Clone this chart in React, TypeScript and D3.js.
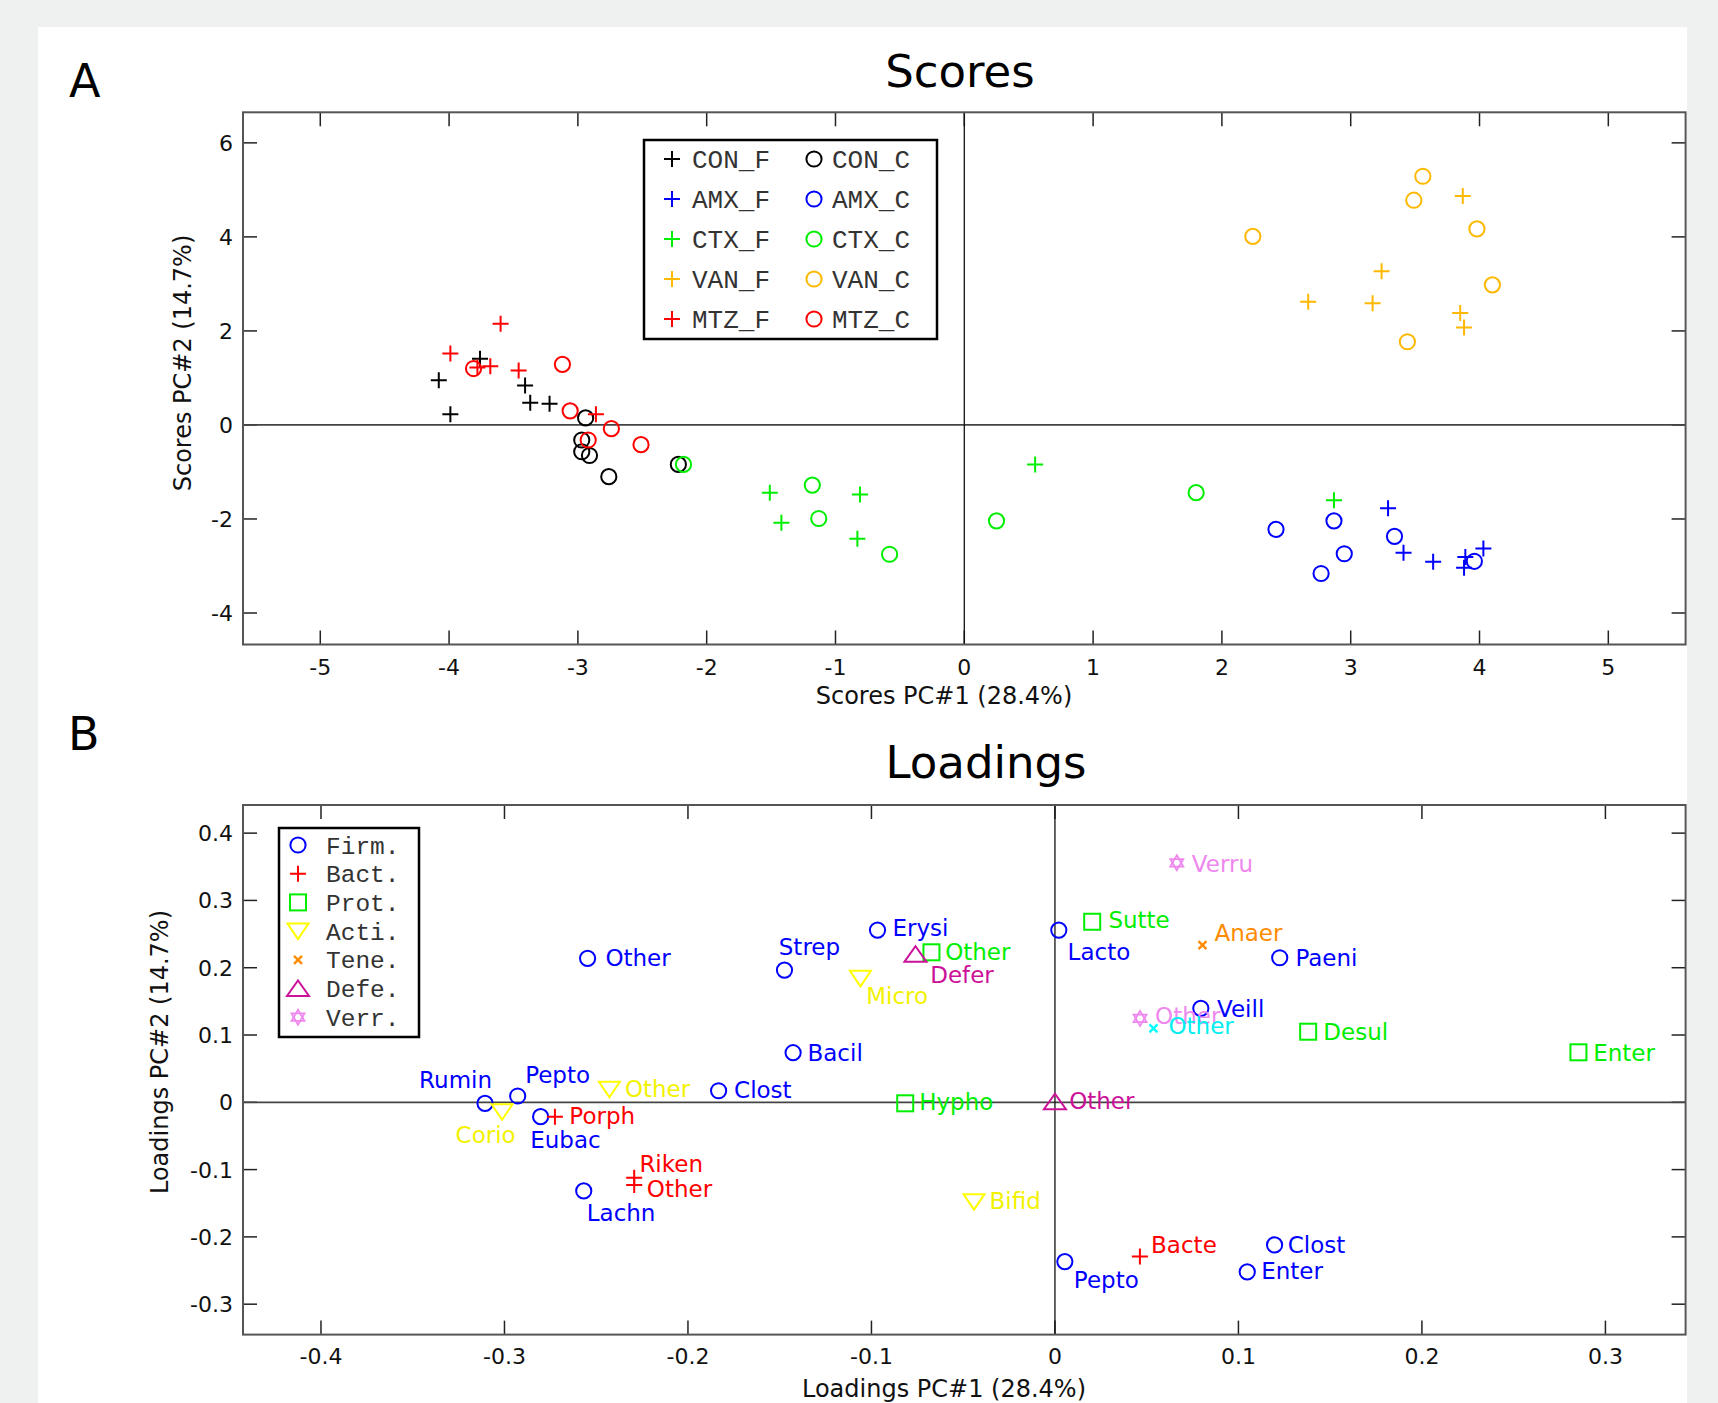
import React, { useEffect } from "react";
import * as d3 from "d3";

// ---------------- Scores data (PC1, PC2) ----------------
const CON_F = [[-4.08, 0.95], [-3.99, 0.23], [-3.76, 1.41], [-3.41, 0.84], [-3.37, 0.47], [-3.22, 0.45]];
const CON_C = [[-2.94, 0.15], [-2.97, -0.32], [-2.97, -0.57], [-2.91, -0.65], [-2.76, -1.1], [-2.22, -0.84]];
const AMX_F = [[3.29, -1.77], [3.41, -2.72], [3.64, -2.91], [3.88, -3.04], [3.89, -2.81], [4.03, -2.63]];
const AMX_C = [[2.42, -2.22], [2.87, -2.04], [2.95, -2.74], [2.77, -3.16], [3.34, -2.37], [3.96, -2.9]];
const CTX_F = [[-1.51, -1.44], [-1.42, -2.08], [-0.81, -1.48], [-0.83, -2.42], [0.55, -0.84], [2.87, -1.6]];
const CTX_C = [[-2.18, -0.84], [-1.18, -1.28], [-1.13, -1.99], [-0.58, -2.75], [0.25, -2.04], [1.8, -1.44]];
const VAN_F = [[3.87, 4.87], [3.24, 3.27], [2.67, 2.62], [3.17, 2.59], [3.85, 2.38], [3.88, 2.07]];
const VAN_C = [[3.56, 5.29], [3.49, 4.78], [2.24, 4.01], [3.98, 4.17], [4.1, 2.98], [3.44, 1.77]];
const MTZ_F = [[-3.99, 1.52], [-3.6, 2.15], [-3.78, 1.22], [-3.68, 1.25], [-3.46, 1.16], [-2.86, 0.23]];
const MTZ_C = [[-3.81, 1.2], [-3.12, 1.29], [-3.06, 0.3], [-2.92, -0.32], [-2.74, -0.08], [-2.51, -0.42]];

const SCORE_GROUPS = ["CON", "AMX", "CTX", "VAN", "MTZ"];
const SCORE_F = [CON_F, AMX_F, CTX_F, VAN_F, MTZ_F];
const SCORE_C = [CON_C, AMX_C, CTX_C, VAN_C, MTZ_C];
const SCORE_COLORS = ["#000000", "#0000ff", "#00ee00", "#ffb800", "#ff0000"];

const SCORE_XTICKS = [-5, -4, -3, -2, -1, 0, 1, 2, 3, 4, 5];
const SCORE_YTICKS = [-4, -2, 0, 2, 4, 6];

// ---------------- Loadings data [label, PC1, PC2] ----------------
const FIRM = [
  ["Other", -0.2547, 0.2139], ["Strep", -0.1474, 0.1965], ["Erysi", -0.0967, 0.2559],
  ["Bacil", -0.1427, 0.0737], ["Clost", -0.1833, 0.0172], ["Rumin", -0.3106, -0.0015],
  ["Pepto", -0.2928, 0.0094], ["Eubac", -0.2803, -0.0214], ["Lachn", -0.2568, -0.1317],
  ["Lacto", 0.0021, 0.2559], ["Paeni", 0.1225, 0.2148], ["Veill", 0.0795, 0.1396],
  ["Pepto", 0.0054, -0.2367], ["Clost", 0.1197, -0.2119], ["Enter", 0.1048, -0.252],
];
const BACT = [["Porph", -0.2725, -0.0214], ["Riken", -0.2293, -0.112], ["Other", -0.2293, -0.1228], ["Bacte", 0.0463, -0.2293]];
const PROT = [["Other", -0.0673, 0.2229], ["Hypho", -0.0816, -0.0015], ["Sutte", 0.0203, 0.2683], ["Desul", 0.138, 0.1049], ["Enter", 0.2853, 0.0743]];
const ACTI = [["Corio", -0.3013, -0.014], ["Other", -0.2428, 0.0193], ["Micro", -0.106, 0.1842], ["Bifid", -0.0441, -0.1476]];
const TENE = [["Anaer", 0.0804, 0.2336]];
const DEFE = [["Defer", -0.076, 0.22], ["Other", 0.0, 0.001]];
const VERR = [["Verru", 0.0664, 0.3559], ["Other", 0.0464, 0.1247]];
const OTHER_PHYLUM = [["Other", 0.0537, 0.1099]];

const LOAD_XTICKS = [-0.4, -0.3, -0.2, -0.1, 0, 0.1, 0.2, 0.3];
const LOAD_YTICKS = [-0.3, -0.2, -0.1, 0, 0.1, 0.2, 0.3, 0.4];

const LEGEND_PHYLA = ["Firm.", "Bact.", "Prot.", "Acti.", "Tene.", "Defe.", "Verr."];

// label placement (layout only): [dx, dy, anchor]
const FIRM_LBL = [[17.8, 7.7], [-5.7, -15], [15, 6.2], [14.4, 8], [15.5, 7.6], [7, -15, "end"], [7.5, -12.7], [-10.4, 31.6], [3, 29.7], [8.8, 30], [15.7, 8.3], [16.2, 9], [9, 26.6], [13.2, 8.3], [14, 7.3]];
const BACT_LBL = [[14.4, 7.6], [5.2, -6], [12.6, 12.3], [11.2, -3.4]];
const PROT_LBL = [[13.7, 8], [14, 7], [16.2, 6.7], [15.2, 8.3], [14.7, 8.3]];
const ACTI_LBL = [[-46.5, 31], [15.5, 8], [5.8, 26], [15.5, 7.6]];
const TENE_LBL = [[12, -4.3]];
const DEFE_LBL = [[14.7, 28.5], [14.2, 7.6]];
const VERR_LBL = [[15, 9], [15, 5.7]];
const OTHER_LBL = [[15, 5.7]];

const SANS = "'DejaVu Sans', sans-serif";
const MONO = "'Liberation Mono', 'DejaVu Sans Mono', monospace";

function Marker({ shape, x, y, color }: { shape: string; x: number; y: number; color: string }) {
  const common = { fill: "none", stroke: color, strokeWidth: 2 };
  if (shape === "circle") return <circle cx={x} cy={y} r={7.6} {...common} />;
  if (shape === "plus")
    return <path d={`M${x - 8},${y}H${x + 8}M${x},${y - 8}V${y + 8}`} {...common} />;
  if (shape === "square") return <rect x={x - 8} y={y - 8} width={16} height={16} {...common} />;
  if (shape === "tridown")
    return <path d={`M${x - 10.5},${y - 7.5}L${x + 10.5},${y - 7.5}L${x},${y + 8}Z`} {...common} />;
  if (shape === "triup")
    return <path d={`M${x - 11},${y + 7.5}L${x + 11},${y + 7.5}L${x},${y - 8}Z`} {...common} />;
  if (shape === "x")
    return <path d={`M${x - 4},${y - 4}L${x + 4},${y + 4}M${x - 4},${y + 4}L${x + 4},${y - 4}`} {...common} strokeWidth={2.4} />;
  if (shape === "hex") {
    const r = 7.5;
    const tri = (rot: number) =>
      [0, 1, 2]
        .map((k) => {
          const a = rot + (k * 2 * Math.PI) / 3;
          return `${x + r * Math.sin(a)},${y - r * Math.cos(a)}`;
        })
        .join(" ");
    return (
      <g>
        <polygon points={tri(0)} {...common} strokeWidth={1.8} />
        <polygon points={tri(Math.PI)} {...common} strokeWidth={1.8} />
      </g>
    );
  }
  return null;
}

function Frame({ x0, x1, y0, y1, xs, ys, xticks, yticks, fmt, labelBase }: any) {
  const tl = 14;
  return (
    <g>
      {xticks.map((t: number, i: number) => (
        <g key={"xt" + i}>
          <line x1={xs(t)} x2={xs(t)} y1={y1} y2={y1 - tl} stroke="#222" strokeWidth={1.5} />
          <line x1={xs(t)} x2={xs(t)} y1={y0} y2={y0 + tl} stroke="#222" strokeWidth={1.5} />
          <text x={xs(t)} y={labelBase} textAnchor="middle" fontFamily={SANS} fontSize={22} fill="#111">
            {fmt(t)}
          </text>
        </g>
      ))}
      {yticks.map((t: number, i: number) => (
        <g key={"yt" + i}>
          <line x1={x0} x2={x0 + tl} y1={ys(t)} y2={ys(t)} stroke="#222" strokeWidth={1.5} />
          <line x1={x1} x2={x1 - tl} y1={ys(t)} y2={ys(t)} stroke="#222" strokeWidth={1.5} />
          <text x={233} y={ys(t) + 8} textAnchor="end" fontFamily={SANS} fontSize={22} fill="#111">
            {fmt(t)}
          </text>
        </g>
      ))}
      {/* zero lines */}
      <line x1={x0} x2={x1} y1={ys(0)} y2={ys(0)} stroke="#444" strokeWidth={1.8} />
      <line x1={xs(0)} x2={xs(0)} y1={y0} y2={y1} stroke="#111" strokeWidth={1.3} />
      <rect x={x0} y={y0} width={x1 - x0} height={y1 - y0} fill="none" stroke="#555" strokeWidth={2} />
    </g>
  );
}

export default function App() {
  useEffect(() => {
    document.body.style.margin = "0";
  }, []);

  const W = 1718;
  const H = 1403;

  // Scores axes
  const sx0 = 243, sx1 = 1685.6, sy0 = 112.3, sy1 = 644.5;
  const sX = d3.scaleLinear().domain([-5.6, 5.6]).range([sx0, sx1]);
  const sY = d3.scaleLinear().domain([-4.67, 6.65]).range([sy1, sy0]);

  // Loadings axes
  const lx0 = 243, lx1 = 1685.6, ly0 = 805, ly1 = 1334.6;
  const lX = d3.scaleLinear().domain([-0.4425, 0.3437]).range([lx0, lx1]);
  const lY = d3.scaleLinear().domain([-0.3452, 0.4418]).range([ly1, ly0]);

  const fmtS = (t: number) => d3.format("d")(t).replace("−", "-");
  const fmtL = (t: number) => (t === 0 ? "0" : d3.format(".1f")(t).replace("−", "-"));

  const loadGroups = [
    { data: FIRM, lbl: FIRM_LBL, shape: "circle", color: "#0000ff", text: "#0000ff" },
    { data: BACT, lbl: BACT_LBL, shape: "plus", color: "#ff0000", text: "#ff0000" },
    { data: PROT, lbl: PROT_LBL, shape: "square", color: "#00ee00", text: "#00ee00" },
    { data: ACTI, lbl: ACTI_LBL, shape: "tridown", color: "#ffff00", text: "#f2f200" },
    { data: TENE, lbl: TENE_LBL, shape: "x", color: "#ff8c00", text: "#ff8c00" },
    { data: DEFE, lbl: DEFE_LBL, shape: "triup", color: "#cc1199", text: "#cc1199" },
    { data: VERR, lbl: VERR_LBL, shape: "hex", color: "#ee88ee", text: "#ee88ee" },
    { data: OTHER_PHYLUM, lbl: OTHER_LBL, shape: "x", color: "#00ffff", text: "#00eeee" },
  ];

  return (
    <svg width={W} height={H} style={{ position: "absolute", left: 0, top: 0, display: "block" }}>
      <rect x={0} y={0} width={W} height={H} fill="#eff1f0" />
      <rect x={38} y={27} width={1649} height={H - 27} fill="#ffffff" />

      {/* ---------- Panel A ---------- */}
      <text x={69} y={97} fontFamily={SANS} fontSize={46} fill="#000">A</text>
      <text x={960} y={87} textAnchor="middle" fontFamily={SANS} fontSize={45} fill="#000">Scores</text>

      <Frame x0={sx0} x1={sx1} y0={sy0} y1={sy1} xs={sX} ys={sY} xticks={SCORE_XTICKS} yticks={SCORE_YTICKS} fmt={fmtS} labelBase={675} />

      {SCORE_GROUPS.map((g, gi) => (
        <g key={g}>
          {SCORE_F[gi].map((p, i) => (
            <Marker key={"f" + i} shape="plus" x={sX(p[0])} y={sY(p[1])} color={SCORE_COLORS[gi]} />
          ))}
          {SCORE_C[gi].map((p, i) => (
            <Marker key={"c" + i} shape="circle" x={sX(p[0])} y={sY(p[1])} color={SCORE_COLORS[gi]} />
          ))}
        </g>
      ))}

      <text x={944} y={704} textAnchor="middle" fontFamily={SANS} fontSize={24} fill="#111">Scores PC#1 (28.4%)</text>
      <text transform="translate(191,363) rotate(-90)" textAnchor="middle" fontFamily={SANS} fontSize={24} fill="#111">Scores PC#2 (14.7%)</text>

      {/* Scores legend */}
      <rect x={644} y={140} width={293} height={199} fill="#fff" stroke="#000" strokeWidth={2.5} />
      {SCORE_GROUPS.map((g, i) => {
        const yy = 159 + 40 * i;
        return (
          <g key={"lg" + g}>
            <Marker shape="plus" x={672} y={yy} color={SCORE_COLORS[i]} />
            <text x={692} y={yy + 9} fontFamily={MONO} fontSize={26} fill="#333">{g + "_F"}</text>
            <Marker shape="circle" x={814} y={yy} color={SCORE_COLORS[i]} />
            <text x={832} y={yy + 9} fontFamily={MONO} fontSize={26} fill="#333">{g + "_C"}</text>
          </g>
        );
      })}

      {/* ---------- Panel B ---------- */}
      <text x={68} y={750} fontFamily={SANS} fontSize={46} fill="#000">B</text>
      <text x={986} y={778} textAnchor="middle" fontFamily={SANS} fontSize={45} fill="#000">Loadings</text>

      <Frame x0={lx0} x1={lx1} y0={ly0} y1={ly1} xs={lX} ys={lY} xticks={LOAD_XTICKS} yticks={LOAD_YTICKS} fmt={fmtL} labelBase={1364} />

      {loadGroups.map((g, gi) => (
        <g key={"lgp" + gi}>
          {g.data.map((p: any, i: number) => {
            const px = lX(p[1]);
            const py = lY(p[2]);
            const o: any = g.lbl[i];
            return (
              <g key={i}>
                <Marker shape={g.shape} x={px} y={py} color={g.color} />
                <text x={px + o[0]} y={py + o[1]} textAnchor={o[2] || "start"} fontFamily={SANS} fontSize={23} fill={g.text}>
                  {p[0]}
                </text>
              </g>
            );
          })}
        </g>
      ))}

      <text x={944} y={1397} textAnchor="middle" fontFamily={SANS} fontSize={24} fill="#111">Loadings PC#1 (28.4%)</text>
      <text transform="translate(168,1052) rotate(-90)" textAnchor="middle" fontFamily={SANS} fontSize={24} fill="#111">Loadings PC#2 (14.7%)</text>

      {/* Loadings legend */}
      <rect x={279} y={828} width={140} height={209} fill="#fff" stroke="#000" strokeWidth={2.5} />
      {LEGEND_PHYLA.map((name, i) => {
        const yy = 845 + 28.7 * i;
        const g = loadGroups[i];
        return (
          <g key={"pl" + i}>
            <Marker shape={g.shape} x={298} y={yy} color={g.color} />
            <text x={326} y={yy + 8.5} fontFamily={MONO} fontSize={24.5} fill="#333">{name}</text>
          </g>
        );
      })}
    </svg>
  );
}
